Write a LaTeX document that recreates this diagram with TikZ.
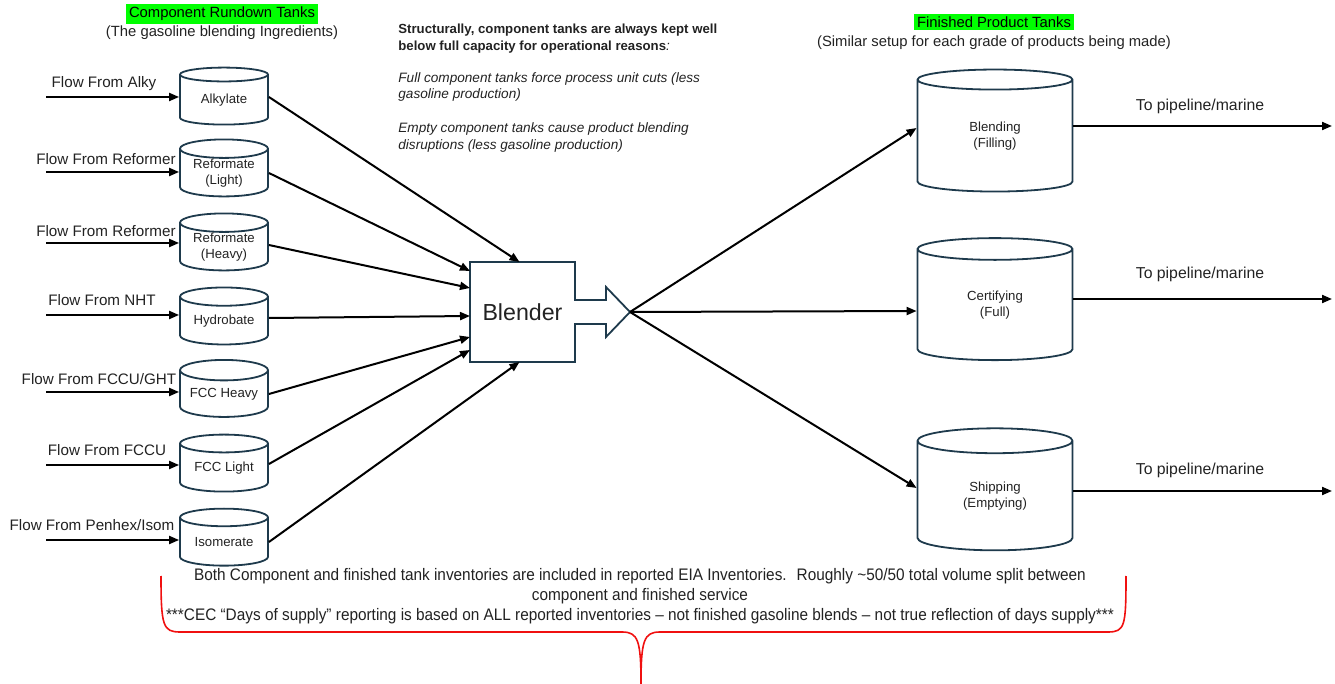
\documentclass[tikz,border=0pt]{standalone}
\usepackage{fontspec}
\setmainfont{Liberation Sans}
\newfontfamily\narrowfont[FakeStretch=0.92]{Liberation Sans}
\usetikzlibrary{shapes.geometric,arrows.meta,calc}

\definecolor{tankline}{HTML}{1E3A4C}
\definecolor{txt}{HTML}{222222}
\definecolor{hilite}{HTML}{00FF00}
\definecolor{bracered}{HTML}{F01010}

\begin{document}
\begin{tikzpicture}[x=0.5pt,y=-0.5pt]
        \tikzset{ctank/.style={cylinder, shape border rotate=90, aspect=0.3, draw=tankline,
                line width=0.9pt, minimum width=44pt, minimum height=28.5pt, inner xsep=0pt,
                inner ysep=-5pt, align=center, text=txt, font=\fontsize{6.6}{8}\selectfont},
            ftank/.style={ctank, aspect=0.39, minimum width=77.5pt, minimum height=61pt},
            flowlabel/.style={text=txt, font=\fontsize{7.6}{9}\selectfont, inner sep=0pt},
            pipelabel/.style={flowlabel, font=\fontsize{7.9}{9}\selectfont},
            header/.style={text=black, fill=hilite, font=\fontsize{7.4}{9}\selectfont,
                inner xsep=1.5pt, inner ysep=1.5pt},
            subheader/.style={text=txt, font=\fontsize{7.4}{9}\selectfont, inner sep=0pt},
            flow/.style={-{Triangle[length=5pt,width=4pt]}, line width=1pt, black}}

        \useasboundingbox (0,0) rectangle (1335,684);

        % headers
        \node[header] (comphead) at (222,14) {Component Rundown Tanks};
        \node[subheader] (compsub) at (222,33) {(The gasoline blending Ingredients)};
        \node[header] (finhead) at (994,22) {Finished Product Tanks};
        \node[subheader] (finsub) at (994,43) {(Similar setup for each grade of products being made)};

        \node[anchor=north west, align=left, inner sep=0pt, text=txt,
            font=\fontsize{6.8}{8.1}\selectfont] (note) at (398,24)
            {{\fontsize{6.6}{8.1}\selectfont\bfseries Structurally, component tanks are always kept well}\\
             {\fontsize{6.6}{8.1}\selectfont\bfseries below full capacity for operational reasons}\textit{:}\\[8.1pt]
             \textit{Full component tanks force process unit cuts (less}\\
             \textit{gasoline production)}\\[9pt]
             \textit{Empty component tanks cause product blending}\\
             \textit{disruptions (less gasoline production)}};

        % component tanks
        \node[ctank] (alky) at (224,100) {Alkylate};
        \node[ctank] (reflight) at (224,173) {Reformate\\(Light)};
        \node[ctank] (refheavy) at (224,247) {Reformate\\(Heavy)};
        \node[ctank] (hydro) at (224,321) {Hydrobate};
        \node[ctank] (fccheavy) at (224,394) {FCC Heavy};
        \node[ctank] (fcclight) at (224,468) {FCC Light};
        \node[ctank] (isom) at (224,542) {Isomerate};

        \node[flowlabel] (fromalky) at (104,84) {Flow From Alky};
        \node[flowlabel] (fromref1) at (106,159) {Flow From Reformer};
        \node[flowlabel] (fromref2) at (106,231) {Flow From Reformer};
        \node[flowlabel] (fromnht) at (102,300) {Flow From NHT};
        \node[flowlabel] (fromght) at (99,379) {Flow From FCCU/GHT};
        \node[flowlabel] (fromfccu) at (107,450) {Flow From FCCU};
        \node[flowlabel] (frompenhex) at (92,525) {Flow From Penhex/Isom};

        \coordinate (inalky) at (46,97);
        \coordinate (inref1) at (46,172);
        \coordinate (inref2) at (46,243);
        \coordinate (innht) at (46,315);
        \coordinate (inght) at (46,392);
        \coordinate (infccu) at (46,465);
        \coordinate (inpenhex) at (46,540);

        \draw[flow] (inalky) -- (inalky -| alky.west);
        \draw[flow] (inref1) -- (inref1 -| reflight.west);
        \draw[flow] (inref2) -- (inref2 -| refheavy.west);
        \draw[flow] (innht) -- (innht -| hydro.west);
        \draw[flow] (inght) -- (inght -| fccheavy.west);
        \draw[flow] (infccu) -- (infccu -| fcclight.west);
        \draw[flow] (inpenhex) -- (inpenhex -| isom.west);

        % blender
        \node[minimum width=52.5pt, minimum height=50pt, inner sep=0pt, outer sep=0pt,
            text=txt, font=\fontsize{11.6}{13}\selectfont] (blender) at (522.5,312) {Blender};
        \draw[draw=tankline, line width=0.9pt]
            (blender.north west) -- (blender.north east) -- ++(0,38) -- ++(31,0) -- ++(0,-13)
            -- ++(24,25) coordinate (blendtip) -- ++(-24,25) -- ++(0,-13) -- ++(-31,0)
            -- ++(0,38) -- (blender.south west) -- cycle;

        \draw[flow] ([yshift=1.5pt]alky.east) -- ([xshift=-1.5pt]blender.north);
        \draw[flow] (reflight.east) -- ([yshift=20.5pt]blender.west);
        \draw[flow] ([yshift=1pt]refheavy.east) -- ([yshift=12pt]blender.west);
        \draw[flow] ([yshift=1.5pt]hydro.east) -- ([yshift=-2pt]blender.west);
        \draw[flow] (fccheavy.east) -- ([yshift=-12.5pt]blender.west);
        \draw[flow] ([yshift=2pt]fcclight.east) -- ([yshift=-19pt]blender.west);
        \draw[flow] (isom.east) -- ([xshift=-1.5pt]blender.south);

        % finished product tanks
        \node[ftank] (blending) at (995,136) {Blending\\(Filling)};
        \node[ftank] (certify) at (995,305) {Certifying\\(Full)};
        \node[ftank] (shipping) at (995,496) {Shipping\\(Emptying)};

        \draw[flow] (blendtip) -- ([yshift=4pt]blending.west);
        \draw[flow] (blendtip) -- ([yshift=-3pt]certify.west);
        \draw[flow] (blendtip) -- ([yshift=4pt]shipping.west);

        \coordinate (outblend) at (1332,126);
        \coordinate (outcert) at (1332,299);
        \coordinate (outship) at (1332,491);
        \draw[flow] (outblend -| blending.east) -- (outblend);
        \draw[flow] (outcert -| certify.east) -- (outcert);
        \draw[flow] (outship -| shipping.east) -- (outship);

        \node[pipelabel] (pipe1) at (1200,106) {To pipeline/marine};
        \node[pipelabel] (pipe2) at (1200,274) {To pipeline/marine};
        \node[pipelabel] (pipe3) at (1200,470) {To pipeline/marine};

        % inventory note and brace
        \node[align=center, inner sep=0pt, text=txt, font=\narrowfont\fontsize{8.35}{10}\selectfont]
            (invnote) at (640,596)
            {Both Component and finished tank inventories are included in reported EIA Inventories.~ Roughly \textasciitilde 50/50 total volume split between\\
             component and finished service\\
             ***CEC “Days of supply” reporting is based on ALL reported inventories – not finished gasoline blends – not true reflection of days supply***};

        \draw[draw=bracered, line width=0.8pt]
            (161,576) .. controls (161,626) and (163,632) .. (180,632) -- (622,632)
            .. controls (638,632) and (641,640) .. (641,684)
            .. controls (641,640) and (644,632) .. (660,632) -- (1108,632)
            .. controls (1125,632) and (1126,626) .. (1126,576);
    \end{tikzpicture}
\end{document}
